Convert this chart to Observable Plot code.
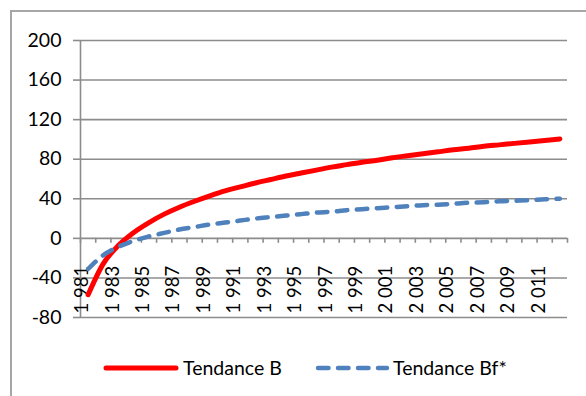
<!DOCTYPE html>
<html><head><meta charset="utf-8">
<script src="https://cdn.jsdelivr.net/npm/d3@7"></script>
<script src="https://cdn.jsdelivr.net/npm/@observablehq/plot@0.6"></script>
<style>
body{margin:0;background:#fff;}
#wrap{position:relative;width:586px;height:396px;overflow:hidden;font-family:Lato,"Liberation Sans",sans-serif;}
#border{position:absolute;left:10px;top:10px;width:700px;height:500px;border:2px solid #a6a6a6;}
#chart{position:absolute;left:0;top:0;}
.lg{position:absolute;font-size:19.5px;line-height:24px;color:#000;white-space:nowrap;}
</style></head>
<body>
<div id="wrap">
  <div id="border"></div>
  <div id="chart"></div>
  <svg class="lg" style="left:100px;top:356px" width="82" height="24"><line x1="6" y1="12" x2="76" y2="12" stroke="#ff0000" stroke-width="5" stroke-linecap="round"/></svg>
  <div class="lg" style="left:183px;top:356px">Tendance B</div>
  <svg class="lg" style="left:311px;top:356px" width="82" height="24"><line x1="7" y1="12" x2="76" y2="12" stroke="#4f81bd" stroke-width="4.5" stroke-dasharray="10.5,9.5" stroke-linecap="round"/></svg>
  <div class="lg" style="left:393px;top:356px">Tendance Bf*</div>
</div>
<script>
const years = [1981,1982,1983,1984,1985,1986,1987,1988,1989,1990,1991,1992,1993,1994,1995,1996,
               1997,1998,1999,2000,2001,2002,2003,2004,2005,2006,2007,2008,2009,2010,2011,2012];
const tendanceB = [-57,-25.5,-7,6,16,24.5,31.5,37.5,43,48,52,56,59.5,63,66,69,
                   72,74.5,77,79,81.5,83.5,85.5,87.5,89.5,91,93,94.5,96,97.5,99,100.5];
const tendanceBf = [-31,-17,-8.5,-2.5,2,5.5,9,11.5,14,16,18,20,21.5,23,24.5,26,
                    27,28.5,29.5,30.5,31.5,32.5,33.5,34,35,36,36.5,37.5,38,38.5,39.5,40];
const labelYears = [1981,1983,1985,1987,1989,1991,1993,1995,1997,1999,2001,2003,2005,2007,2009,2011];
const tickLabels = ["1 981","1 983","1 985","1 987","1 989","1 991","1 993","1 995",
                    "1 997","1 999","2 001","2 003","2 005","2 007","2 009","2 011"];
const yTicks = [-80,-40,0,40,80,120,160,200];

const boundaries = years.map(y => y - 0.5).concat([years[years.length-1] + 0.5]);
const grid = "#8c8c8c";

const chart = Plot.plot({
  width: 586, height: 340,
  marginLeft: 80, marginRight: 19, marginTop: 40, marginBottom: 23,
  x: {domain: [boundaries[0], boundaries[boundaries.length-1]], axis: null},
  y: {domain: [yTicks[0], yTicks[yTicks.length-1]], axis: null},
  style: {fontFamily: "Lato, 'Liberation Sans', sans-serif", background: "transparent", overflow: "visible", color: "#000"},
  marks: [
    Plot.gridY(yTicks, {stroke: grid, strokeOpacity: 1, strokeWidth: 1.6}),
    Plot.ruleX([boundaries[0]], {stroke: grid, strokeWidth: 1.6}),
    Plot.axisY(yTicks, {tickSize: 7, tickPadding: 12, fontSize: 19.5, stroke: grid, strokeWidth: 1.6, tickFormat: d => String(d)}),
    Plot.ruleX(boundaries, {x: d => d, y1: 0, y2: -5, stroke: grid, strokeWidth: 1.6}),
    Plot.text(labelYears, {x: d => d, text: (d, i) => tickLabels[i], frameAnchor: "bottom", rotate: -90, textAnchor: "start", dy: -4, fontSize: 18.5, fill: "#000"}),
    Plot.line(years, {x: d => d, y: (d, i) => tendanceB[i], stroke: "#ff0000", strokeWidth: 5, curve: "monotone-x", strokeLinecap: "round"}),
    Plot.line(years, {x: d => d, y: (d, i) => tendanceBf[i], stroke: "#4f81bd", strokeWidth: 4.5, curve: "monotone-x", strokeDasharray: "10.5,9.5", strokeLinecap: "round"})
  ]
});
document.getElementById("chart").appendChild(chart);
</script>
</body></html>
